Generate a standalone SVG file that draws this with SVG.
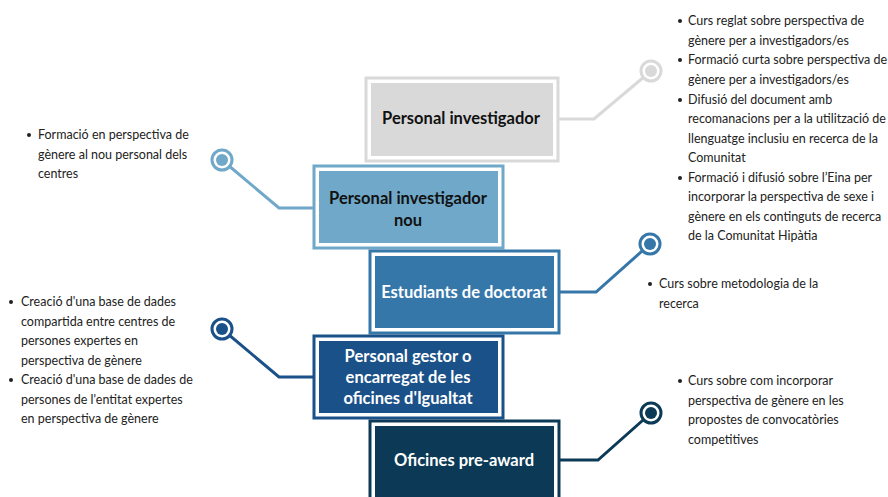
<svg xmlns="http://www.w3.org/2000/svg" width="888" height="497" viewBox="0 0 888 497">
<style>
.t{font-family:Lato,"Liberation Sans",sans-serif;font-size:12.5px;fill:#222}
.b{font-family:Lato,"Liberation Sans",sans-serif;font-size:16.5px;font-weight:bold;text-anchor:middle}
.ring{fill:#fff;stroke-width:3}
.ln{fill:none;stroke-width:3}
</style>
<rect width="888" height="497" fill="#fff"/>
<g id="connectors">
<path class="ln" d="M651 71 L594 119 H559" stroke="#d9d9d9"/>
<circle class="ring" cx="651" cy="71" r="10" stroke="#d9d9d9"/><circle cx="651" cy="71" r="6" fill="#d9d9d9"/>
<path class="ln" d="M222 160 L279 208 H314" stroke="#6fa8c8"/>
<circle class="ring" cx="222" cy="160" r="10" stroke="#6fa8c8"/><circle cx="222" cy="160" r="6" fill="#6fa8c8"/>
<path class="ln" d="M650 244 L596 292 H559" stroke="#3677aa"/>
<circle class="ring" cx="650" cy="244" r="10" stroke="#3677aa"/><circle cx="650" cy="244" r="6" fill="#3677aa"/>
<path class="ln" d="M222 329 L279 377 H314" stroke="#1b5189"/>
<circle class="ring" cx="222" cy="329" r="10" stroke="#1b5189"/><circle cx="222" cy="329" r="6" fill="#1b5189"/>
<path class="ln" d="M651 413 L598 460 H559" stroke="#0c3a56"/>
<circle class="ring" cx="651" cy="413" r="10" stroke="#0c3a56"/><circle cx="651" cy="413" r="6" fill="#0c3a56"/>
</g>
<g id="n1">
<rect x="366" y="78" width="192" height="83" fill="#fff" stroke="#d9d9d9" stroke-width="3"/>
<rect x="371" y="83" width="182" height="73" fill="#d9d9d9"/>
<text class="b" x="461" y="124" fill="#111">Personal investigador</text>
</g>
<g id="n2">
<rect x="314" y="166" width="189" height="82" fill="#fff" stroke="#6fa8c8" stroke-width="3"/>
<rect x="319" y="171" width="179" height="72" fill="#6fa8c8"/>
<text class="b" x="408" y="204" fill="#111">Personal investigador</text>
<text class="b" x="408" y="226" fill="#111">nou</text>
</g>
<g id="n3">
<rect x="370" y="251" width="189" height="82" fill="#fff" stroke="#3677aa" stroke-width="3"/>
<rect x="375" y="256" width="179" height="72" fill="#3677aa"/>
<text class="b" x="464" y="298" fill="#fff">Estudiants de doctorat</text>
</g>
<g id="n4">
<rect x="314" y="336" width="189" height="82" fill="#fff" stroke="#1b5189" stroke-width="3"/>
<rect x="319" y="341" width="179" height="72" fill="#1b5189"/>
<text class="b" x="408" y="362" fill="#fff">Personal gestor o</text>
<text class="b" x="408" y="383" fill="#fff">encarregat de les</text>
<text class="b" x="408" y="404" fill="#fff">oficines d'Igualtat</text>
</g>
<g id="n5">
<rect x="370" y="421" width="189" height="82" fill="#fff" stroke="#0c3a56" stroke-width="3"/>
<rect x="375" y="426" width="179" height="80" fill="#0c3a56"/>
<text class="b" x="464" y="466" fill="#fff">Oficines pre-award</text>
</g>
<g id="list1">
<circle cx="680" cy="21" r="2" fill="#222"/>
<text class="t" x="688" y="25">Curs reglat sobre perspectiva de</text>
<text class="t" x="688" y="45">gènere per a investigadors/es</text>
<circle cx="680" cy="60" r="2" fill="#222"/>
<text class="t" x="688" y="64">Formació curta sobre perspectiva de</text>
<text class="t" x="688" y="84">gènere per a investigadors/es</text>
<circle cx="680" cy="100" r="2" fill="#222"/>
<text class="t" x="688" y="104">Difusió del document amb</text>
<text class="t" x="688" y="123">recomanacions per a la utilització de</text>
<text class="t" x="688" y="143">llenguatge inclusiu en recerca de la</text>
<text class="t" x="688" y="162">Comunitat</text>
<circle cx="680" cy="178" r="2" fill="#222"/>
<text class="t" x="688" y="182">Formació i difusió sobre l’Eina per</text>
<text class="t" x="688" y="201">incorporar la perspectiva de sexe i</text>
<text class="t" x="688" y="221">gènere en els continguts de recerca</text>
<text class="t" x="688" y="240">de la Comunitat Hipàtia</text>
</g>
<g id="list2">
<circle cx="29" cy="135" r="2" fill="#222"/>
<text class="t" x="38" y="139">Formació en perspectiva de</text>
<text class="t" x="38" y="159">gènere al nou personal dels</text>
<text class="t" x="38" y="178">centres</text>
</g>
<g id="list3">
<circle cx="650" cy="284" r="2" fill="#222"/>
<text class="t" x="659" y="288">Curs sobre metodologia de la</text>
<text class="t" x="659" y="308">recerca</text>
</g>
<g id="list4">
<circle cx="11" cy="302" r="2" fill="#222"/>
<text class="t" x="21" y="306">Creació d'una base de dades</text>
<text class="t" x="21" y="326">compartida entre centres de</text>
<text class="t" x="21" y="345">persones expertes en</text>
<text class="t" x="21" y="365">perspectiva de gènere</text>
<circle cx="11" cy="380" r="2" fill="#222"/>
<text class="t" x="21" y="384">Creació d'una base de dades de</text>
<text class="t" x="21" y="404">persones de l'entitat expertes</text>
<text class="t" x="21" y="423">en perspectiva de gènere</text>
</g>
<g id="list5">
<circle cx="680" cy="381" r="2" fill="#222"/>
<text class="t" x="688" y="385">Curs sobre com incorporar</text>
<text class="t" x="688" y="405">perspectiva de gènere en les</text>
<text class="t" x="688" y="424">propostes de convocatòries</text>
<text class="t" x="688" y="444">competitives</text>
</g>
</svg>
